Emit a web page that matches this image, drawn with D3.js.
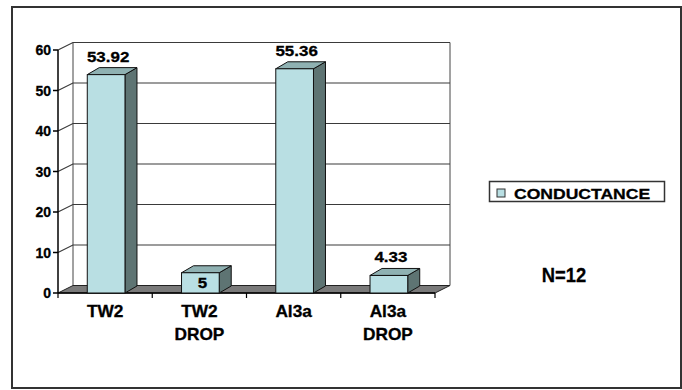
<!DOCTYPE html>
<html>
<head>
<meta charset="utf-8">
<script src="https://cdn.jsdelivr.net/npm/d3@7"></script>
<style>
  html, body { margin: 0; padding: 0; background: #fff; }
  svg { display: block; }
  text { font-family: "Liberation Sans", Arial, sans-serif; font-weight: bold; fill: #000; stroke: #000; stroke-width: 0.3; }
</style>
</head>
<body>
<script>
// Conductance per condition
const categories = ["TW2", "TW2 DROP", "Al3a", "Al3a DROP"];
const conductance = [53.92, 5, 55.36, 4.33];
const valueLabels = ["53.92", "5", "55.36", "4.33"];
const yTicks = [0, 10, 20, 30, 40, 50, 60];
const seriesName = "CONDUCTANCE";
const note = "N=12";

const W = 682, H = 390;
const svg = d3.select("body").append("svg").attr("width", W).attr("height", H);

// frame round the whole figure
svg.append("rect").attr("x", 12).attr("y", 7).attr("width", 669).attr("height", 381)
  .attr("fill", "#fff").attr("stroke", "#333").attr("stroke-width", 2);

// front plane of the 3-D plot and the depth offset of the back wall
const x0 = 58, x1 = 435;
const depth = { dx: 15, dy: -7.5 };
const barDepth = { dx: 12, dy: -7 };

const x = d3.scaleBand().domain(categories).range([x0, x1]).paddingInner(0.6).paddingOuter(0.3);
const y = d3.scaleLinear().domain([0, 60]).range([293, 50]);

const colors = { front: "#b9dfe3", top: "#8fb1b2", side: "#5e7473", floor: "#7a7a7a", grid: "#3a3a3a" };

function scaled(g, px, py, txt, fs, sx, anchor) {
  return g.append("text")
    .attr("transform", `translate(${px},${py}) scale(${sx},1)`)
    .attr("text-anchor", anchor || "middle")
    .attr("font-size", fs)
    .text(txt);
}

const plot = svg.append("g");

// back wall
const bx0 = x0 + depth.dx, bx1 = x1 + depth.dx;
plot.append("path")
  .attr("d", `M${bx0},${y(60) + depth.dy}L${bx1},${y(60) + depth.dy}L${bx1},${y(0) + depth.dy}L${bx0},${y(0) + depth.dy}Z`)
  .attr("fill", "#fff").attr("stroke", "#444").attr("stroke-width", 1);

// gridlines: diagonal across the side wall, then along the back wall
plot.selectAll("path.grid").data(yTicks.filter(t => t > 0))
  .join("path").attr("class", "grid")
  .attr("d", t => `M${x0},${y(t)}L${bx0},${y(t) + depth.dy}L${bx1},${y(t) + depth.dy}`)
  .attr("fill", "none").attr("stroke", colors.grid).attr("stroke-width", 1.2);

// floor
plot.append("path")
  .attr("d", `M${x0},${y(0)}L${x1},${y(0)}L${bx1},${y(0) + depth.dy}L${bx0},${y(0) + depth.dy}Z`)
  .attr("fill", colors.floor).attr("stroke", "#222").attr("stroke-width", 1);

// value axis
plot.append("line").attr("x1", x0).attr("x2", x0).attr("y1", y(0)).attr("y2", y(60))
  .attr("stroke", "#000").attr("stroke-width", 1.5);
plot.selectAll("line.ytick").data(yTicks).join("line").attr("class", "ytick")
  .attr("x1", x0 - 5).attr("x2", x0).attr("y1", d => y(d)).attr("y2", d => y(d))
  .attr("stroke", "#000").attr("stroke-width", 1.5);
yTicks.forEach(t => scaled(plot, 51, y(t) + 5, String(t), 14, 1.0, "end"));

// category axis
plot.append("line").attr("x1", x0).attr("x2", x1).attr("y1", y(0)).attr("y2", y(0))
  .attr("stroke", "#000").attr("stroke-width", 1.5);
const step = x.step();
plot.selectAll("line.xtick").data(d3.range(categories.length + 1)).join("line").attr("class", "xtick")
  .attr("x1", i => x0 + i * step).attr("x2", i => x0 + i * step)
  .attr("y1", y(0)).attr("y2", y(0) + 5)
  .attr("stroke", "#000").attr("stroke-width", 1.2);

// columns
const bars = plot.selectAll("g.bar").data(conductance.map((v, i) => ({ v, i, c: categories[i] })))
  .join("g").attr("class", "bar");
bars.each(function (d) {
  const g = d3.select(this);
  const bl = x(d.c) + 1, br = bl + x.bandwidth(), top = y(d.v), bot = y(0);
  const { dx, dy } = barDepth;
  g.append("path").attr("d", `M${br},${bot}L${br + dx},${bot + dy}L${br + dx},${top + dy}L${br},${top}Z`)
    .attr("fill", colors.side).attr("stroke", "#111").attr("stroke-width", 1);
  g.append("path").attr("d", `M${bl},${top}L${bl + dx},${top + dy}L${br + dx},${top + dy}L${br},${top}Z`)
    .attr("fill", colors.top).attr("stroke", "#111").attr("stroke-width", 1);
  g.append("rect").attr("x", bl).attr("y", top).attr("width", br - bl).attr("height", bot - top)
    .attr("fill", colors.front).attr("stroke", "#111").attr("stroke-width", 1);
});

// value labels (the short TW2 DROP column carries its label on its face)
const labelInside = [false, true, false, false];
conductance.forEach((v, i) => {
  const cx = x(categories[i]) + x.bandwidth() / 2 + 3;
  const ly = labelInside[i] ? y(0) - 5 : y(v) - 13;
  scaled(plot, cx, ly, valueLabels[i], 15, 1.13, "middle");
});

// category labels, one word per line
categories.forEach((c, i) => {
  const cx = x(c) + x.bandwidth() / 2;
  c.split(" ").forEach((t, k) => scaled(plot, cx, 317 + k * 23, t, 16, 1.08, "middle"));
});

// legend
const lg = svg.append("g");
lg.append("rect").attr("x", 489.5).attr("y", 181.5).attr("width", 175).attr("height", 20)
  .attr("fill", "#fff").attr("stroke", "#333").attr("stroke-width", 1.5);
lg.append("rect").attr("x", 497).attr("y", 189).attr("width", 8).attr("height", 8)
  .attr("fill", colors.front).attr("stroke", "#333").attr("stroke-width", 1);
scaled(lg, 514, 199, seriesName, 15.4, 1.14, "start");

// sample size note
scaled(svg, 564, 282, note, 20, 0.92, "middle");
</script>
</body>
</html>
